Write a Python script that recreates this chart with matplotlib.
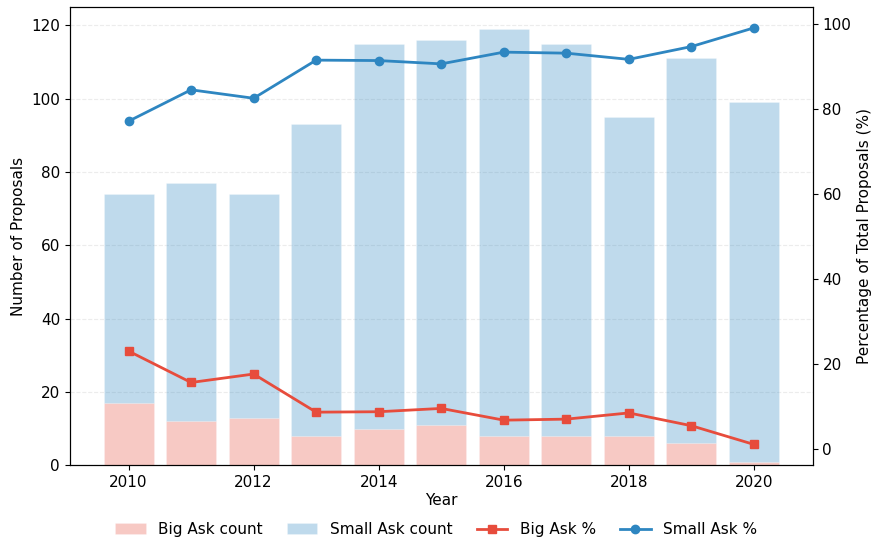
import numpy as np
import matplotlib
matplotlib.use('Agg')
import matplotlib.pyplot as plt

years       = [2010, 2011, 2012, 2013, 2014, 2015, 2016, 2017, 2018, 2019, 2020]
big_count   = [17, 12, 13, 8, 10, 11, 8, 8, 8, 6, 1]
small_count = [57, 65, 61, 85, 105, 105, 111, 107, 87, 105, 98]
big_pct     = [22.97, 15.58, 17.57, 8.60, 8.70, 9.48, 6.72, 6.96, 8.42, 5.41, 1.01]
small_pct   = [77.03, 84.42, 82.43, 91.40, 91.30, 90.52, 93.28, 93.04, 91.58, 94.59, 98.99]

red  = '#e74c3c'
blue = '#2e86c1'

fig, ax = plt.subplots(figsize=(8.72, 5.41), dpi=100)
fig.subplots_adjust(left=0.08, right=0.932, top=0.987, bottom=0.14)

ax.bar(years, big_count, width=0.8, color=red, alpha=0.3, edgecolor='white',
       linewidth=0.5, label='Big Ask count')
ax.bar(years, small_count, width=0.8, bottom=big_count, color=blue, alpha=0.3,
       edgecolor='white', linewidth=0.5, label='Small Ask count')
ax.set_xlabel('Year', fontsize=11, labelpad=2)
ax.set_ylabel('Number of Proposals', fontsize=11)
ax.grid(axis='y', linestyle='--', color='#e4e4e4', alpha=0.7)
ax.set_axisbelow(True)
ax.tick_params(labelsize=11)

ax2 = ax.twinx()
ax2.plot(years, big_pct, color=red, marker='s', linewidth=2, markersize=6, label='Big Ask %')
ax2.plot(years, small_pct, color=blue, marker='o', linewidth=2, markersize=6, label='Small Ask %')
ax2.set_ylabel('Percentage of Total Proposals (%)', fontsize=11)
ax2.tick_params(labelsize=11)

h1, l1 = ax.get_legend_handles_labels()
h2, l2 = ax2.get_legend_handles_labels()
fig.legend(h1 + h2, l1 + l2, loc='lower center', ncol=4, frameon=False,
           fontsize=11, columnspacing=1.6, bbox_to_anchor=(0.5, -0.018))

plt.savefig('out.png')
